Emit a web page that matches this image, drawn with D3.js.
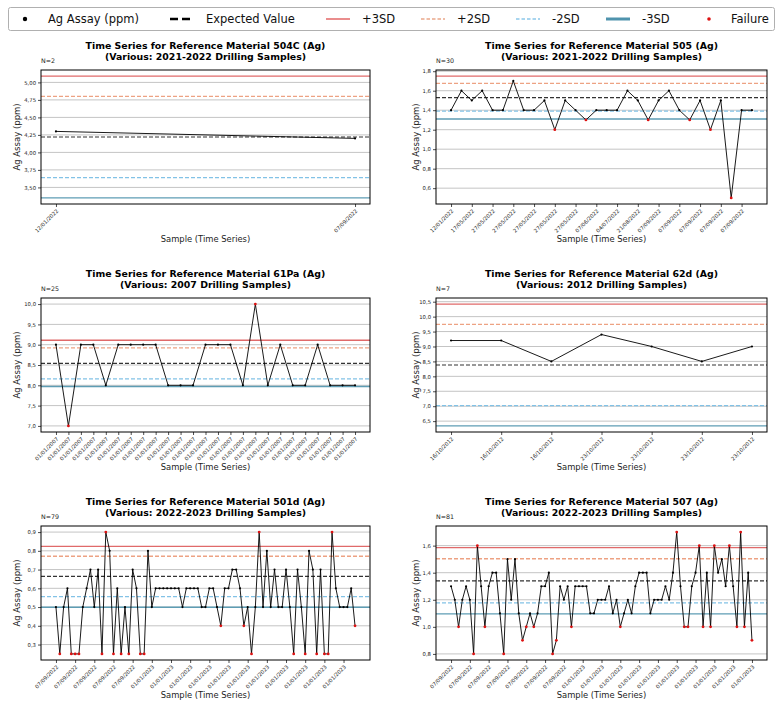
<!DOCTYPE html>
<html><head><meta charset="utf-8">
<script src="https://cdn.jsdelivr.net/npm/d3@7"></script>
<style>body{margin:0;background:#fff} svg{display:block} text{font-family:"DejaVu Sans",sans-serif}</style>
</head><body>
<svg id="c" width="782" height="703"></svg>
<script>
// ---------- DATA ----------
const materials = ["504C", "505", "61Pa", "62d", "501d", "507"];
const periods = ["2021-2022", "2021-2022", "2007", "2012", "2022-2023", "2022-2023"];

// limits order: -3SD, -2SD, Expected, +2SD, +3SD
const values504C = [4.3, 4.2];
const xLabels504C = ["12/01/2022", "07/09/2022"];
const yTicks504C = [3.5, 3.75, 4.0, 4.25, 4.5, 4.75, 5.0];
const limits504C = [3.35, 3.64, 4.22, 4.80, 5.09];

const values505 = [1.4, 1.6, 1.5, 1.6, 1.4, 1.4, 1.7, 1.4, 1.4, 1.5, 1.2, 1.5, 1.4, 1.3, 1.4,
                   1.4, 1.4, 1.6, 1.5, 1.3, 1.5, 1.6, 1.4, 1.3, 1.5, 1.2, 1.5, 0.5, 1.4, 1.4];
const xLabels505 = ["12/01/2022", "17/05/2022", "27/05/2022", "27/05/2022", "27/05/2022", "27/05/2022",
                    "27/05/2022", "07/06/2022", "04/07/2022", "21/08/2022", "07/09/2022", "07/09/2022",
                    "07/09/2022", "07/09/2022", "07/09/2022"];
const yTicks505 = [0.6, 0.8, 1.0, 1.2, 1.4, 1.6, 1.8];
const limits505 = [1.31, 1.39, 1.53, 1.675, 1.75];

const values61Pa = [9.0, 7.0, 9.0, 9.0, 8.0, 9.0, 9.0, 9.0, 9.0, 8.0, 8.0, 8.0, 9.0, 9.0, 9.0,
                    8.0, 10.0, 8.0, 9.0, 8.0, 8.0, 9.0, 8.0, 8.0, 8.0];
const xLabels61Pa = ["01/01/2007", "01/01/2007", "01/01/2007", "01/01/2007", "01/01/2007",
                     "01/01/2007", "01/01/2007", "01/01/2007", "01/01/2007", "01/01/2007",
                     "01/01/2007", "01/01/2007", "01/01/2007", "01/01/2007", "01/01/2007",
                     "01/01/2007", "01/01/2007", "01/01/2007", "01/01/2007", "01/01/2007",
                     "01/01/2007", "01/01/2007", "01/01/2007", "01/01/2007", "01/01/2007"];
const yTicks61Pa = [7.0, 7.5, 8.0, 8.5, 9.0, 9.5, 10.0];
const limits61Pa = [7.97, 8.16, 8.54, 8.92, 9.11];

const values62d = [9.2, 9.2, 8.5, 9.4, 9.0, 8.5, 9.0];
const xLabels62d = ["16/10/2012", "16/10/2012", "16/10/2012", "23/10/2012", "23/10/2012", "23/10/2012", "23/10/2012"];
const yTicks62d = [6.5, 7.0, 7.5, 8.0, 8.5, 9.0, 9.5, 10.0, 10.5];
const limits62d = [6.34, 7.02, 8.38, 9.74, 10.42];

const values501d = [0.5, 0.25, 0.5, 0.6, 0.25, 0.25, 0.25, 0.5, 0.6, 0.7, 0.5, 0.7, 0.25, 0.9, 0.8,
                    0.25, 0.6, 0.25, 0.5, 0.25, 0.7, 0.6, 0.25, 0.25, 0.8, 0.5, 0.6, 0.6, 0.6, 0.6,
                    0.6, 0.6, 0.6, 0.5, 0.6, 0.6, 0.6, 0.6, 0.5, 0.5, 0.6, 0.6, 0.5, 0.4, 0.6,
                    0.6, 0.7, 0.7, 0.6, 0.4, 0.5, 0.25, 0.5, 0.9, 0.5, 0.8, 0.5, 0.7, 0.5, 0.5,
                    0.7, 0.5, 0.25, 0.7, 0.5, 0.25, 0.8, 0.7, 0.25, 0.7, 0.25, 0.25, 0.9, 0.6, 0.5,
                    0.5, 0.5, 0.6, 0.4];
const xLabels501d = ["07/09/2022", "07/09/2022", "07/09/2022", "07/09/2022", "07/09/2022",
                     "01/01/2023", "01/01/2023", "01/01/2023", "01/01/2023", "01/01/2023", "01/01/2023",
                     "01/01/2023", "01/01/2023", "01/01/2023", "01/01/2023", "01/01/2023"];
const yTicks501d = [0.3, 0.4, 0.5, 0.6, 0.7, 0.8, 0.9];
const limits501d = [0.499, 0.556, 0.664, 0.771, 0.824];

const values507 = [1.3, 1.2, 1.0, 1.2, 1.3, 1.2, 0.8, 1.6, 1.3, 1.0, 1.3, 1.4, 1.4, 1.1, 0.8,
                   1.5, 1.2, 1.5, 1.1, 0.9, 1.0, 1.1, 1.0, 1.1, 1.3, 1.3, 1.4, 0.8, 0.9, 1.3,
                   1.2, 1.3, 1.0, 1.3, 1.3, 1.3, 1.3, 1.1, 1.1, 1.2, 1.2, 1.2, 1.3, 1.1, 1.2,
                   1.0, 1.1, 1.2, 1.1, 1.3, 1.4, 1.4, 1.4, 1.1, 1.2, 1.2, 1.2, 1.3, 1.2, 1.4,
                   1.7, 1.3, 1.0, 1.0, 1.3, 1.4, 1.6, 1.0, 1.4, 1.0, 1.6, 1.4, 1.5, 1.3, 1.6,
                   1.3, 1.0, 1.7, 1.0, 1.4, 0.9];
const xLabels507 = ["07/09/2022", "07/09/2022", "07/09/2022", "07/09/2022", "07/09/2022", "07/09/2022",
                    "07/09/2022", "01/01/2023", "01/01/2023", "01/01/2023", "01/01/2023", "01/01/2023",
                    "01/01/2023", "01/01/2023", "01/01/2023", "01/01/2023", "01/01/2023"];
const yTicks507 = [0.8, 1.0, 1.2, 1.4, 1.6];
const limits507 = [1.096, 1.177, 1.34, 1.503, 1.585];

const legendLabels = ["Ag Assay (ppm)", "Expected Value", "+3SD", "+2SD", "-2SD", "-3SD", "Failure"];

// ---------- DRAW ----------
const svg = d3.select("#c");
svg.append("rect").attr("width", 782).attr("height", 703).attr("fill", "#fff");

const COL = {p3: "#e06a6a", p2: "#eda283", exp: "#333333", m2: "#82c2e6", m3: "#5e9db4", fail: "#dd1111"};

const panels = [
  {vals: values504C, xl: xLabels504C, step: 1, yt: yTicks504C, lim: limits504C, dec: 2},
  {vals: values505, xl: xLabels505, step: 2, yt: yTicks505, lim: limits505, dec: 1},
  {vals: values61Pa, xl: xLabels61Pa, step: 1, yt: yTicks61Pa, lim: limits61Pa, dec: 1},
  {vals: values62d, xl: xLabels62d, step: 1, yt: yTicks62d, lim: limits62d, dec: 1},
  {vals: values501d, xl: xLabels501d, step: 5, yt: yTicks501d, lim: limits501d, dec: 1},
  {vals: values507, xl: xLabels507, step: 5, yt: yTicks507, lim: limits507, dec: 1}
];
const cols = [[41, 370], [436, 767]];
const rows = [[70, 204], [298, 432], [526, 660]];
const ylabX = [17, 416];

panels.forEach((p, k) => {
  const [x0, x1] = cols[k % 2];
  const [y0, y1] = rows[Math.floor(k / 2)];
  const n = p.vals.length;
  const g = svg.append("g");
  const x = d3.scaleLinear().domain([-0.05 * (n - 1), 1.05 * (n - 1)]).range([x0, x1]);
  const lo = Math.min(d3.min(p.vals), p.lim[0]);
  const hi = Math.max(d3.max(p.vals), p.lim[4]);
  const pad = 0.05 * (hi - lo);
  const y = d3.scaleLinear().domain([lo - pad, hi + pad]).range([y1, y0]);

  // grid
  g.selectAll(".grid").data(p.yt).join("line")
    .attr("x1", x0).attr("x2", x1).attr("y1", d => y(d)).attr("y2", d => y(d))
    .attr("stroke", "#c4c4c4").attr("stroke-width", 1);

  // limit lines
  const limStyle = [
    {c: COL.m3, w: 1.4, da: null},
    {c: COL.m2, w: 1.3, da: "4,2"},
    {c: COL.exp, w: 1.2, da: "4,2"},
    {c: COL.p2, w: 1.3, da: "4,2"},
    {c: COL.p3, w: 1.4, da: null}
  ];
  p.lim.forEach((v, i) => {
    const s = limStyle[i];
    g.append("line").attr("x1", x0).attr("x2", x1).attr("y1", y(v)).attr("y2", y(v))
      .attr("stroke", s.c).attr("stroke-width", s.w).attr("stroke-dasharray", s.da);
  });

  // series
  const line = d3.line().x((d, i) => x(i)).y(d => y(d));
  g.append("path").datum(p.vals).attr("d", line).attr("fill", "none")
    .attr("stroke", "#000").attr("stroke-width", 0.9);
  g.selectAll(".pt").data(p.vals).join("circle")
    .attr("cx", (d, i) => x(i)).attr("cy", d => y(d))
    .attr("r", d => (d < p.lim[0] || d > p.lim[4]) ? 1.4 : 1.1)
    .attr("fill", d => (d < p.lim[0] || d > p.lim[4]) ? COL.fail : "#000");

  // frame
  g.append("rect").attr("x", x0).attr("y", y0).attr("width", x1 - x0).attr("height", y1 - y0)
    .attr("fill", "none").attr("stroke", "#000").attr("stroke-width", 1);

  // y axis
  const fmt = d => d.toFixed(p.dec).replace(".", ",");
  const ya = g.append("g").attr("transform", `translate(${x0},0)`)
    .call(d3.axisLeft(y).tickValues(p.yt).tickFormat(fmt).tickSize(3).tickPadding(2));
  ya.select(".domain").remove();
  ya.selectAll("text").attr("font-size", 5.3).attr("font-family", "DejaVu Sans").attr("fill", "#222");
  ya.selectAll("line").attr("stroke", "#000").attr("stroke-width", 0.7);

  // x axis
  const idx = p.xl.map((d, i) => i * p.step);
  const xa = g.append("g").attr("transform", `translate(0,${y1})`)
    .call(d3.axisBottom(x).tickValues(idx).tickFormat((d, i) => p.xl[i]).tickSize(3).tickPadding(2));
  xa.select(".domain").remove();
  xa.selectAll("line").attr("stroke", "#000").attr("stroke-width", 0.7);
  xa.selectAll("text").attr("font-size", 5.3).attr("font-family", "DejaVu Sans").attr("fill", "#222")
    .attr("text-anchor", "end").attr("x", 0).attr("y", 0).attr("dy", "0.35em")
    .attr("transform", "translate(1,6) rotate(-45)");

  // labels
  const cx = (x0 + x1) / 2;
  g.append("text").attr("x", cx).attr("y", y0 - 21).attr("text-anchor", "middle")
    .attr("font-size", 9.4).attr("font-weight", "bold")
    .text(`Time Series for Reference Material ${materials[k]} (Ag)`);
  g.append("text").attr("x", cx).attr("y", y0 - 10.5).attr("text-anchor", "middle")
    .attr("font-size", 9.4).attr("font-weight", "bold")
    .text(`(Various: ${periods[k]} Drilling Samples)`);
  g.append("text").attr("x", x0).attr("y", y0 - 7).attr("font-size", 6.3).attr("fill", "#222")
    .text(`N=${n}`);
  g.append("text").attr("x", cx).attr("y", y1 + 38).attr("text-anchor", "middle")
    .attr("font-size", 8.4).attr("fill", "#222").text("Sample (Time Series)");
  g.append("text").attr("transform", `translate(${ylabX[k % 2]},${(y0 + y1) / 2}) rotate(-90)`)
    .attr("text-anchor", "middle").attr("dy", "0.35em")
    .attr("font-size", 8.5).attr("fill", "#222").text("Ag Assay (ppm)");
});

// ---------- LEGEND ----------
const lg = svg.append("g");
lg.append("rect").attr("x", 8.5).attr("y", 7.5).attr("width", 766).attr("height", 23).attr("rx", 2)
  .attr("fill", "#fff").attr("stroke", "#b0b0b0").attr("stroke-width", 1);
const ly = 19;
const items = [
  {type: "dot", c: "#000", r: 2.2, x: 25, tx: 48},
  {type: "line", c: "#000", w: 2.6, da: "8,4", x: 170, tx: 206},
  {type: "line", c: "#e88080", w: 1.8, da: null, x: 326, tx: 362},
  {type: "line", c: "#eaa88a", w: 1.4, da: "3.5,2", x: 421, tx: 457},
  {type: "line", c: "#8cc8ea", w: 1.4, da: "3.5,2", x: 516, tx: 552},
  {type: "line", c: "#4f93ad", w: 3, da: null, x: 606, tx: 642},
  {type: "dot", c: COL.fail, r: 1.8, x: 709, tx: 731}
];
items.forEach((it, i) => {
  if (it.type === "dot") {
    lg.append("circle").attr("cx", it.x).attr("cy", ly).attr("r", it.r).attr("fill", it.c);
  } else {
    lg.append("line").attr("x1", it.x).attr("x2", it.x + 24).attr("y1", ly).attr("y2", ly)
      .attr("stroke", it.c).attr("stroke-width", it.w).attr("stroke-dasharray", it.da);
  }
  lg.append("text").attr("x", it.tx).attr("y", ly).attr("dy", "0.36em")
    .attr("font-size", 11.5).attr("fill", "#111").text(legendLabels[i]);
});
</script>
</body></html>
